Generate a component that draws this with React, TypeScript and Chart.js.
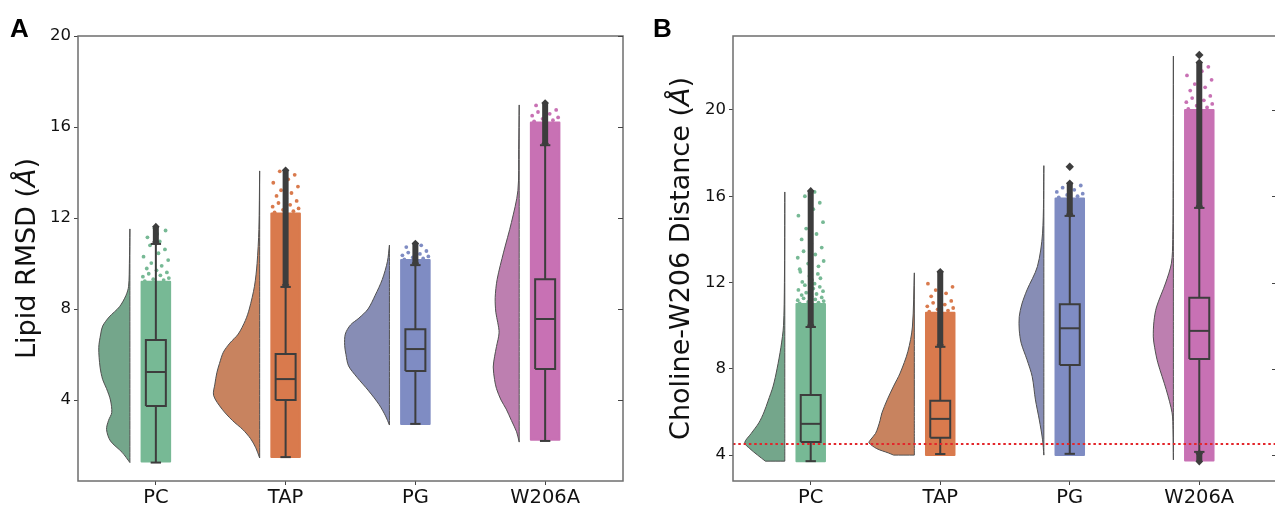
import React, { useEffect, useRef } from "react";
import { Chart, registerables } from "chart.js";

Chart.register(...registerables);

// ---------- shared ----------
const categories = ["PC", "TAP", "PG", "W206A"];
const stripColors = ["#77b995", "#d97a4d", "#7f8cc3", "#c871b4"];
const violinColors = ["#74a68b", "#c8835f", "#878db5", "#bd7fb0"];

// ---------- Panel A: Lipid RMSD ----------
const aYTicks = [4, 8, 12, 16, 20];
const aViolinY = [
  [1.25, 1.7, 2.2, 2.7, 3.1, 3.45, 4.0, 4.5, 4.9, 5.45, 6.3, 6.9, 7.25, 7.65, 8.1, 8.6, 9.0, 10.0, 11.52],
  [1.45, 1.9, 2.3, 2.7, 3.1, 3.6, 4.2, 4.7, 5.2, 5.6, 6.1, 6.5, 6.9, 7.5, 8.0, 9.0, 10.0, 11.5, 14.07],
  [2.9, 3.3, 3.8, 4.4, 5.0, 5.5, 6.0, 6.4, 6.9, 7.3, 7.6, 8.0, 8.6, 9.3, 10.1, 10.81],
  [2.15, 2.6, 3.1, 3.6, 4.0, 4.5, 4.9, 5.45, 5.9, 6.35, 6.95, 7.4, 7.85, 8.5, 9.3, 10.5, 11.8, 13.2, 15.0, 16.97],
];
const aViolinW = [
  [0, 0.06, 0.15, 0.18, 0.165, 0.14, 0.15, 0.18, 0.21, 0.23, 0.24, 0.225, 0.21, 0.16, 0.08, 0.03, 0.01, 0.004, 0],
  [0, 0.03, 0.07, 0.13, 0.21, 0.29, 0.355, 0.345, 0.33, 0.31, 0.28, 0.23, 0.165, 0.11, 0.08, 0.04, 0.02, 0.006, 0],
  [0, 0.03, 0.08, 0.16, 0.25, 0.315, 0.335, 0.345, 0.34, 0.3, 0.235, 0.165, 0.11, 0.055, 0.015, 0],
  [0, 0.02, 0.06, 0.1, 0.14, 0.175, 0.19, 0.2, 0.19, 0.175, 0.155, 0.165, 0.18, 0.185, 0.17, 0.12, 0.06, 0.01, 0.004, 0],
];
const aQ1 = [3.74, 4.0, 5.27, 5.36];
const aMedian = [5.23, 4.92, 6.24, 7.56];
const aQ3 = [6.64, 6.02, 7.11, 9.31];
const aWhiskerLow = [1.25, 1.49, 2.95, 2.2];
const aWhiskerHigh = [10.86, 8.97, 9.93, 15.2];
const aFlierHigh = [11.62, 14.1, 10.88, 17.05];
const aFlierLow: (number | null)[] = [null, null, null, null];
const aOutliers: number[][] = [[], [], [], []];
const aStripLow = [1.3, 1.5, 2.95, 2.25];
const aStripHigh = [9.2, 12.2, 10.15, 16.2];
const aSparse = [
  [9.22, 9.27, 9.31, 9.36, 9.42, 9.48, 9.55, 9.61, 9.7, 9.78, 9.9, 10.02, 10.15, 10.3, 10.45, 10.62, 10.8, 10.97, 11.15, 11.3, 11.45, 11.55],
  [12.25, 12.3, 12.36, 12.42, 12.5, 12.58, 12.66, 12.75, 12.85, 12.97, 13.1, 13.22, 13.38, 13.55, 13.7, 13.9, 14.05],
  [10.18, 10.22, 10.27, 10.31, 10.36, 10.42, 10.48, 10.55, 10.63, 10.72, 10.8],
  [16.25, 16.3, 16.36, 16.42, 16.5, 16.58, 16.66, 16.75, 16.85, 16.95],
];

// ---------- Panel B: Choline-W206 distance ----------
const bYTicks = [4, 8, 12, 16, 20];
const bViolinY = [
  [3.72, 4.0, 4.3, 4.57, 5.0, 5.5, 6.0, 6.5, 7.2, 8.0, 9.0, 10.0, 12.0, 16.2],
  [4.0, 4.1, 4.3, 4.57, 4.7, 5.0, 5.3, 5.6, 5.96, 6.56, 7.2, 7.8, 8.8, 9.94, 12.45],
  [4.0, 4.71, 5.63, 6.56, 7.64, 8.42, 9.19, 9.8, 10.42, 11.0, 11.66, 12.74, 14.29, 17.42],
  [3.78, 5.17, 5.96, 7.03, 8.28, 9.0, 9.48, 10.2, 10.87, 11.98, 12.9, 14.0, 17.0, 22.5],
];
const bViolinW = [
  [0.15, 0.21, 0.27, 0.31, 0.26, 0.2, 0.16, 0.13, 0.09, 0.06, 0.03, 0.01, 0.003, 0],
  [0.16, 0.2, 0.29, 0.35, 0.34, 0.3, 0.28, 0.265, 0.25, 0.21, 0.16, 0.11, 0.05, 0.015, 0],
  [0, 0.01, 0.035, 0.065, 0.09, 0.13, 0.175, 0.19, 0.19, 0.17, 0.13, 0.05, 0.01, 0],
  [0, 0.003, 0.01, 0.055, 0.12, 0.145, 0.155, 0.15, 0.13, 0.06, 0.015, 0.005, 0.002, 0],
];
const bQ1 = [4.61, 4.8, 8.18, 8.46];
const bMedian = [5.45, 5.68, 9.88, 9.76];
const bQ3 = [6.79, 6.52, 10.99, 11.29];
const bWhiskerLow = [3.72, 4.05, 4.06, 4.15];
const bWhiskerHigh = [9.94, 9.02, 15.09, 15.46];
const bFlierHigh = [16.25, 12.5, 16.6, 22.2];
const bFlierLow: (number | null)[] = [null, null, null, 3.7];
const bOutliers: number[][] = [[], [], [17.37], [22.55]];
const bStripLow = [3.72, 4.0, 4.0, 3.75];
const bStripHigh = [11.0, 10.6, 15.9, 20.0];
const bSparse = [
  [11.03, 11.07, 11.1, 11.14, 11.18, 11.22, 11.27, 11.31, 11.36, 11.42, 11.47, 11.53, 11.6, 11.66, 11.72, 11.8, 11.88, 11.95, 12.03, 12.12, 12.2, 12.3, 12.4, 12.5, 12.62, 12.75, 12.88, 13.0, 13.15, 13.3, 13.45, 13.62, 13.8, 14.0, 14.25, 14.5, 14.8, 15.1, 15.4, 15.7, 16.0, 16.2],
  [10.65, 10.7, 10.76, 10.82, 10.9, 10.98, 11.06, 11.15, 11.25, 11.36, 11.5, 11.65, 11.8, 11.95],
  [15.95, 16.0, 16.06, 16.12, 16.2, 16.3, 16.4, 16.5, 16.6],
  [20.05, 20.12, 20.2, 20.28, 20.36, 20.45, 20.55, 20.65, 20.78, 20.9, 21.05, 21.2, 21.4, 21.6, 21.8, 22.0],
];
const bRefLine = 4.52;

// ---------- styling constants ----------
const EDGE = "#3d3d3d";
const FRAME = "#6e6e6e";
const BOX_HALF = 0.077;
const CAP_HALF = 0.04;
const STRIP_HALF = 0.11;
const VIOLIN_GAP = 0.2;
const X_MIN = -0.6;
const X_MAX = 3.6;
const JITTER = [-0.085, 0.06, -0.02, 0.1, -0.1, 0.035, -0.055, 0.085, 0.005, -0.07, 0.045, -0.035, 0.095, -0.095, 0.02, 0.07, -0.045, 0.03, -0.065, 0.01, 0.075, -0.01, 0.055, -0.08];

type Panel = {
  letter: string;
  title: [string, string, string];
  yMin: number;
  yMax: number;
  yTicks: number[];
  violinY: number[][];
  violinW: number[][];
  q1: number[];
  median: number[];
  q3: number[];
  whiskerLow: number[];
  whiskerHigh: number[];
  flierHigh: number[];
  flierLow: (number | null)[];
  outliers: number[][];
  stripLow: number[];
  stripHigh: number[];
  sparse: number[][];
  refLine: number | null;
  width: number;
  leftWidth: number;
  rightPad: number;
  titleX: number;
  letterX: number;
};

const panelA: Panel = {
  letter: "A",
  title: ["Lipid RMSD (", "Å", ")"],
  yMin: 0.44,
  yMax: 20,
  yTicks: aYTicks,
  violinY: aViolinY,
  violinW: aViolinW,
  q1: aQ1,
  median: aMedian,
  q3: aQ3,
  whiskerLow: aWhiskerLow,
  whiskerHigh: aWhiskerHigh,
  flierHigh: aFlierHigh,
  flierLow: aFlierLow,
  outliers: aOutliers,
  stripLow: aStripLow,
  stripHigh: aStripHigh,
  sparse: aSparse,
  refLine: null,
  width: 640,
  leftWidth: 78,
  rightPad: 17,
  titleX: 28,
  letterX: 10,
};

const panelB: Panel = {
  letter: "B",
  title: ["Choline-W206 Distance (", "Å", ")"],
  yMin: 2.8,
  yMax: 23.43,
  yTicks: bYTicks,
  violinY: bViolinY,
  violinW: bViolinW,
  q1: bQ1,
  median: bMedian,
  q3: bQ3,
  whiskerLow: bWhiskerLow,
  whiskerHigh: bWhiskerHigh,
  flierHigh: bFlierHigh,
  flierLow: bFlierLow,
  outliers: bOutliers,
  stripLow: bStripLow,
  stripHigh: bStripHigh,
  sparse: bSparse,
  refLine: bRefLine,
  width: 645,
  leftWidth: 93,
  rightPad: 8,
  titleX: 42,
  letterX: 13,
};

function seg(x1: number, y1: number, x2: number, y2: number) {
  return [
    { x: x1, y: y1 },
    { x: x2, y: y2 },
  ];
}

function rect(x1: number, x2: number, y1: number, y2: number) {
  return [
    { x: x1, y: y1 },
    { x: x2, y: y1 },
    { x: x2, y: y2 },
    { x: x1, y: y2 },
    { x: x1, y: y1 },
  ];
}

function buildDatasets(p: Panel) {
  const ds: any[] = [];
  const lineBase = { pointRadius: 0, pointHoverRadius: 0, tension: 0, fill: false, borderCapStyle: "butt" };
  categories.forEach((_, i) => {
    // half violin
    const edge = i - VIOLIN_GAP;
    const ys = p.violinY[i];
    const ws = p.violinW[i];
    const n = ys.length;
    const curve = ys.map((y, k) => ({ x: edge - ws[k], y }));
    const back = ys
      .slice()
      .reverse()
      .map((y) => ({ x: edge, y }));
    const poly = [curve[0], ...curve, back[0], ...back, back[n - 1], curve[0], curve[0]];
    ds.push({
      ...lineBase,
      data: poly,
      fill: "shape",
      backgroundColor: violinColors[i],
      borderColor: "#505050",
      borderWidth: 1,
      tension: 0.3,
      order: 60,
    });
    // dense strip
    ds.push({
      ...lineBase,
      data: rect(i - STRIP_HALF, i + STRIP_HALF, p.stripLow[i], p.stripHigh[i]),
      fill: "shape",
      backgroundColor: stripColors[i],
      borderColor: stripColors[i],
      borderWidth: 2,
      borderJoinStyle: "round",
      order: 50,
    });
    // sparse strip points
    ds.push({
      data: p.sparse[i].map((y, k) => ({ x: i + JITTER[k % JITTER.length], y })),
      showLine: false,
      pointRadius: 1.9,
      pointHoverRadius: 0,
      pointBackgroundColor: stripColors[i],
      pointBorderWidth: 0,
      order: 45,
    });
    // box
    ds.push({
      ...lineBase,
      data: rect(i - BOX_HALF, i + BOX_HALF, p.q1[i], p.q3[i]),
      fill: "shape",
      backgroundColor: stripColors[i],
      borderColor: EDGE,
      borderWidth: 2,
      borderJoinStyle: "miter",
      order: 30,
    });
    const thin = { ...lineBase, borderColor: EDGE, borderWidth: 2, order: 25 };
    ds.push({ ...thin, data: seg(i - BOX_HALF, p.median[i], i + BOX_HALF, p.median[i]) });
    ds.push({ ...thin, data: seg(i, p.q3[i], i, p.whiskerHigh[i]) });
    ds.push({ ...thin, data: seg(i, p.q1[i], i, p.whiskerLow[i]) });
    ds.push({ ...thin, data: seg(i - CAP_HALF, p.whiskerHigh[i], i + CAP_HALF, p.whiskerHigh[i]) });
    ds.push({ ...thin, data: seg(i - CAP_HALF, p.whiskerLow[i], i + CAP_HALF, p.whiskerLow[i]) });
    // flier columns
    const flier = {
      ...lineBase,
      borderColor: EDGE,
      borderWidth: 6,
      pointRadius: 3.8,
      pointStyle: "rectRot",
      pointBackgroundColor: EDGE,
      pointBorderWidth: 0,
      order: 20,
    };
    if (p.flierHigh[i] > p.whiskerHigh[i]) {
      ds.push({ ...flier, data: seg(i, p.whiskerHigh[i] + 0.08, i, p.flierHigh[i]) });
    }
    const fl = p.flierLow[i];
    if (fl !== null && fl < p.whiskerLow[i]) {
      ds.push({ ...flier, data: seg(i, p.whiskerLow[i] - 0.08, i, fl) });
    }
    if (p.outliers[i].length) {
      ds.push({
        data: p.outliers[i].map((y) => ({ x: i, y })),
        showLine: false,
        pointRadius: 4.2,
        pointHoverRadius: 0,
        pointStyle: "rectRot",
        pointBackgroundColor: EDGE,
        pointBorderWidth: 0,
        order: 20,
      });
    }
  });
  if (p.refLine !== null) {
    ds.push({
      ...lineBase,
      data: seg(X_MIN, p.refLine, X_MAX, p.refLine),
      borderColor: "#e3262b",
      borderWidth: 2,
      borderDash: [2.5, 2.8],
      order: 0,
    });
  }
  return ds;
}

function framePlugin(p: Panel) {
  return {
    id: "frame" + p.letter,
    afterDraw(chart: any) {
      const { ctx, chartArea: a } = chart;
      const yScale = chart.scales.y;
      ctx.save();
      ctx.strokeStyle = FRAME;
      ctx.lineWidth = 1.5;
      ctx.strokeRect(a.left, a.top, a.right - a.left, a.bottom - a.top);
      ctx.lineWidth = 1;
      ctx.strokeStyle = "#444";
      p.yTicks.forEach((v) => {
        const py = Math.round(yScale.getPixelForValue(v)) + 0.5;
        ctx.beginPath();
        ctx.moveTo(a.right, py);
        ctx.lineTo(a.right - 5, py);
        ctx.stroke();
      });
      ctx.restore();

      // y-axis title with italic Å
      ctx.save();
      ctx.fillStyle = "#111";
      ctx.translate(p.titleX, (a.top + a.bottom) / 2);
      ctx.rotate(-Math.PI / 2);
      const nf = '27px "DejaVu Sans"';
      const itf = 'italic 27px "DejaVu Sans"';
      ctx.font = nf;
      const w1 = ctx.measureText(p.title[0]).width;
      const w3 = ctx.measureText(p.title[2]).width;
      ctx.font = itf;
      const w2 = ctx.measureText(p.title[1]).width;
      let x = -(w1 + w2 + w3) / 2;
      ctx.textBaseline = "middle";
      ctx.textAlign = "left";
      ctx.font = nf;
      ctx.fillText(p.title[0], x, 0);
      x += w1;
      ctx.font = itf;
      ctx.fillText(p.title[1], x, 0);
      x += w2;
      ctx.font = nf;
      ctx.fillText(p.title[2], x, 0);
      ctx.restore();

      // panel letter
      ctx.save();
      ctx.font = 'bold 26px "Liberation Sans"';
      ctx.fillStyle = "#000";
      ctx.textBaseline = "alphabetic";
      ctx.textAlign = "left";
      ctx.fillText(p.letter, p.letterX, 37);
      ctx.restore();
    },
  };
}

function makeConfig(p: Panel): any {
  return {
    type: "line",
    data: { datasets: buildDatasets(p) },
    options: {
      responsive: false,
      animation: false,
      events: [],
      layout: { padding: { top: 36, right: p.rightPad, left: 0, bottom: 0 } },
      plugins: { legend: { display: false }, tooltip: { enabled: false } },
      scales: {
        x: {
          type: "linear",
          min: X_MIN,
          max: X_MAX,
          afterBuildTicks: (s: any) => {
            s.ticks = categories.map((_, i) => ({ value: i }));
          },
          afterFit: (s: any) => {
            s.height = 27;
          },
          ticks: {
            callback: (v: number) => categories[Math.round(v)] ?? "",
            font: { family: '"DejaVu Sans"', size: 19.5 },
            color: "#111",
            padding: 1,
            autoSkip: false,
            maxRotation: 0,
          },
          grid: { display: true, drawOnChartArea: false, drawTicks: true, tickLength: 4, color: "#444", lineWidth: 1 },
          border: { display: false },
        },
        y: {
          type: "linear",
          min: p.yMin,
          max: p.yMax,
          afterBuildTicks: (s: any) => {
            s.ticks = p.yTicks.map((v) => ({ value: v }));
          },
          afterFit: (s: any) => {
            s.width = p.leftWidth;
          },
          ticks: {
            font: { family: '"DejaVu Sans"', size: 16.5 },
            color: "#111",
            padding: 3,
            callback: (v: number) => String(v),
          },
          grid: { display: true, drawOnChartArea: false, drawTicks: true, tickLength: 4, color: "#444", lineWidth: 1 },
          border: { display: false },
        },
      },
    },
    plugins: [framePlugin(p)],
  };
}

export default function App() {
  const refA = useRef<HTMLCanvasElement>(null);
  const refB = useRef<HTMLCanvasElement>(null);
  useEffect(() => {
    document.body.style.margin = "0";
    const a = new Chart(refA.current as HTMLCanvasElement, makeConfig(panelA));
    const b = new Chart(refB.current as HTMLCanvasElement, makeConfig(panelB));
    return () => {
      a.destroy();
      b.destroy();
    };
  }, []);
  return (
    <div
      style={{
        position: "absolute",
        left: 0,
        top: 0,
        width: 1275,
        height: 508,
        overflow: "hidden",
        background: "#fff",
      }}
    >
      <canvas
        ref={refA}
        width={panelA.width}
        height={508}
        style={{ position: "absolute", left: 0, top: 0, width: panelA.width, height: 508, display: "block" }}
      />
      <canvas
        ref={refB}
        width={panelB.width}
        height={508}
        style={{ position: "absolute", left: 640, top: 0, width: panelB.width, height: 508, display: "block" }}
      />
    </div>
  );
}
